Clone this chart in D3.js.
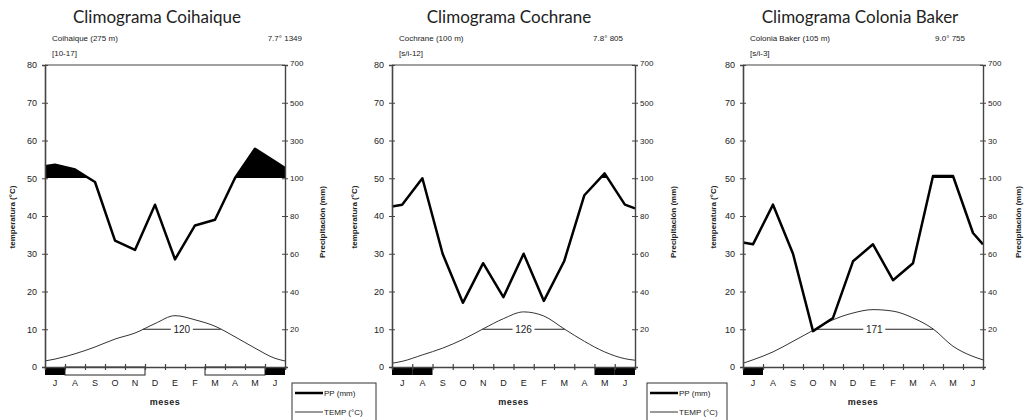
<!DOCTYPE html>
<html>
<head>
<meta charset="utf-8">
<script src="https://cdn.jsdelivr.net/npm/d3@7"></script>
<style>
  body { margin: 0; background: #fff; }
  svg { display: block; }
  text { font-family: "Liberation Sans", Arial, sans-serif; fill: #222; }
</style>
</head>
<body>
<svg width="1024" height="420"></svg>
<script>
// months from July to June
const months = ["J", "A", "S", "O", "N", "D", "E", "F", "M", "A", "M", "J"];

// precipitation (mm) per month
const coihaiquePP = [172, 146, 98, 67, 62, 86, 57, 75, 78, 101, 256, 188];
const cochranePP = [86, 100, 60, 34, 55, 37, 60, 35, 56, 91, 126, 86];
const bakerPP = [65, 86, 60, 19, 26, 56, 65, 46, 55, 112, 112, 71];
// value where the line meets the left / right axis
const coihaiquePPEdge = [164, 154];
const cochranePPEdge = [85, 84];
const bakerPPEdge = [66, 65];

// temperature (°C) per month
const coihaiqueTemp = [2.1, 3.5, 5.3, 7.4, 9.0, 11.5, 13.6, 12.5, 10.8, 8.0, 5.0, 2.3];
const cochraneTemp = [1.5, 3.2, 5.0, 7.3, 10.1, 12.8, 14.6, 13.5, 10.1, 6.8, 4.0, 2.2];
const bakerTemp = [1.9, 4.0, 6.8, 9.7, 12.5, 14.3, 15.2, 14.8, 13.0, 10.1, 5.5, 2.8];
const coihaiqueTempEdge = [1.6, 1.6];
const cochraneTempEdge = [1.0, 1.8];
const bakerTempEdge = [1.0, 1.9];

// frost: 2 = black bar, 1 = open box, 0 = none
const coihaiqueFrost = [2, 1, 1, 1, 1, 0, 0, 0, 1, 1, 1, 2];
const cochraneFrost = [2, 2, 0, 0, 0, 0, 0, 0, 0, 0, 2, 2];
const bakerFrost = [2, 0, 0, 0, 0, 0, 0, 0, 0, 0, 0, 0];

const titles = ["Climograma Coihaique", "Climograma Cochrane", "Climograma Colonia Baker"];
const stationNames = ["Coihaique (275 m)", "Cochrane (100 m)", "Colonia Baker (105 m)"];
const stationCodes = ["[10-17]", "[s/i-12]", "[s/i-3]"];
const annualText = ["7.7° 1349", "7.8° 805", "9.0° 755"];
const frostFreeDays = ["120", "126", "171"];

const tempTicks = [0, 10, 20, 30, 40, 50, 60, 70, 80];
const ppTicks = [20, 40, 60, 80, 100, 300, 500, 700];
const ppTickLabels = [
  ["20", "40", "60", "80", "100", "300", "500", "700"],
  ["20", "40", "60", "80", "100", "300", "500", "700"],
  ["20", "40", "60", "80", "100", "30", "500", "700"]
];
const legendLabels = ["PP (mm)", "TEMP (°C)"];

const stations = [
  { pp: coihaiquePP, ppEdge: coihaiquePPEdge, temp: coihaiqueTemp, tempEdge: coihaiqueTempEdge, frost: coihaiqueFrost },
  { pp: cochranePP, ppEdge: cochranePPEdge, temp: cochraneTemp, tempEdge: cochraneTempEdge, frost: cochraneFrost },
  { pp: bakerPP, ppEdge: bakerPPEdge, temp: bakerTemp, tempEdge: bakerTempEdge, frost: bakerFrost }
];

// layout per panel
const panels = [
  { x0: 45, x1: 285, titleX: 157, annualX: 302, leftTitleX: 12, rightTitleX: 322, legendX: 292, legendW: 84 },
  { x0: 392, x1: 635, titleX: 509, annualX: 623, leftTitleX: 354, rightTitleX: 673, legendX: 647, legendW: 80 },
  { x0: 743, x1: 983, titleX: 860, annualX: 965, leftTitleX: 713, rightTitleX: 1018, legendX: null }
];

const yTop = 65, yBottom = 367;
const svg = d3.select("svg");

const yScale = d3.scaleLinear().domain([0, 80]).range([yBottom, yTop]);
// Walter-Lieth: 2 mm per °C up to 100 mm, compressed above
const ppScale = d3.scaleLinear().domain([0, 100, 700]).range([yScale(0), yScale(50), yScale(80)]);

stations.forEach((st, k) => {
  const p = panels[k];
  const g = svg.append("g");
  const xLin = d3.scaleLinear().domain([0, 12]).range([p.x0, p.x1]);
  const xc = i => xLin(i + 0.5);

  // titles
  g.append("text").attr("x", p.titleX).attr("y", 23).attr("text-anchor", "middle")
    .style("font-family", "Lato, 'Noto Sans', sans-serif").style("font-size", "17px")
    .text(titles[k]);
  g.append("text").attr("x", p.x0 + 7).attr("y", 41).style("font-size", "8px").text(stationNames[k]);
  g.append("text").attr("x", p.x0 + 7).attr("y", 56).style("font-size", "8px").text(stationCodes[k]);
  g.append("text").attr("x", p.annualX).attr("y", 41).attr("text-anchor", "end")
    .style("font-size", "8px").text(annualText[k]);

  // clip for humid fill (above 100 mm)
  const clipId = "clip" + k;
  svg.append("clipPath").attr("id", clipId).append("rect")
    .attr("x", p.x0).attr("y", yTop).attr("width", p.x1 - p.x0)
    .attr("height", Math.floor(yScale(50)) - yTop);

  const ppPts = [[p.x0, ppScale(st.ppEdge[0])]]
    .concat(st.pp.map((v, i) => [xc(i), ppScale(v)]), [[p.x1, ppScale(st.ppEdge[1])]]);
  const tPts = [[p.x0, yScale(st.tempEdge[0])]]
    .concat(st.temp.map((v, i) => [xc(i), yScale(v)]), [[p.x1, yScale(st.tempEdge[1])]]);

  g.append("path")
    .attr("clip-path", "url(#" + clipId + ")")
    .attr("d", d3.area().x(d => d[0]).y0(yScale(50)).y1(d => d[1])(ppPts))
    .attr("fill", "#000");

  // frost-free line at 10 °C
  const cross = [];
  for (let i = 0; i < 11; i++) {
    const a = st.temp[i], b = st.temp[i + 1];
    if ((a - 10) * (b - 10) < 0) cross.push(xc(i) + (10 - a) / (b - a) * (xc(i + 1) - xc(i)));
  }
  if (cross.length === 2) {
    const mid = (cross[0] + cross[1]) / 2;
    g.append("line").attr("x1", cross[0]).attr("x2", mid - 11)
      .attr("y1", yScale(10)).attr("y2", yScale(10)).attr("stroke", "#222").attr("stroke-width", 1);
    g.append("line").attr("x1", mid + 11).attr("x2", cross[1])
      .attr("y1", yScale(10)).attr("y2", yScale(10)).attr("stroke", "#222").attr("stroke-width", 1);
    g.append("text").attr("x", mid).attr("y", yScale(10) + 3.5).attr("text-anchor", "middle")
      .style("font-size", "10px").text(frostFreeDays[k]);
  }

  // temperature line
  g.append("path")
    .attr("d", d3.line().curve(d3.curveMonotoneX)(tPts))
    .attr("fill", "none").attr("stroke", "#333").attr("stroke-width", 1);

  // precipitation line
  g.append("path")
    .attr("d", d3.line()(ppPts))
    .attr("fill", "none").attr("stroke", "#000").attr("stroke-width", 2.5)
    .attr("stroke-linejoin", "round");

  // frame
  g.append("line").attr("x1", p.x0).attr("x2", p.x1).attr("y1", yTop).attr("y2", yTop)
    .attr("stroke", "#444").attr("stroke-width", 1.2);

  // left axis
  const la = g.append("g").attr("transform", "translate(" + p.x0 + ",0)")
    .call(d3.axisLeft(yScale).tickValues(tempTicks).tickSize(3).tickFormat(d3.format("d")));
  la.select(".domain").attr("stroke", "#444").attr("stroke-width", 1.6);
  la.selectAll(".tick line").attr("x1", 3).attr("stroke", "#444");
  la.selectAll(".tick text").attr("x", -8).style("font-size", "9px")
    .style("font-family", "Liberation Sans, Arial, sans-serif").attr("fill", "#333");

  // right axis
  const ra = g.append("g").attr("transform", "translate(" + p.x1 + ",0)")
    .call(d3.axisRight(ppScale).tickValues(ppTicks).tickSize(3).tickFormat((d, i) => ppTickLabels[k][i]));
  ra.select(".domain").attr("stroke", "#444").attr("stroke-width", 1.4);
  ra.selectAll(".tick line").attr("x1", -3).attr("stroke", "#444");
  ra.selectAll(".tick text").attr("x", 5).style("font-size", "8px")
    .style("font-family", "Liberation Sans, Arial, sans-serif").attr("fill", "#333");
  ra.selectAll(".tick").filter(d => d === 700).select("text").attr("dy", "0.1em");

  // frost bar
  st.frost.forEach((f, i) => {
    if (f !== 2) return;
    g.append("rect").attr("x", xLin(i)).attr("y", yBottom)
      .attr("width", xLin(i + 1) - xLin(i)).attr("height", 8).attr("fill", "#000");
  });
  // outline runs of probable frost
  let runStart = null;
  st.frost.concat([0]).forEach((f, i) => {
    if (f === 1 && runStart === null) runStart = i;
    if (f !== 1 && runStart !== null) {
      g.append("rect").attr("x", xLin(runStart)).attr("y", yBottom)
        .attr("width", xLin(i) - xLin(runStart)).attr("height", 8)
        .attr("fill", "none").attr("stroke", "#222").attr("stroke-width", 1);
      runStart = null;
    }
  });

  // bottom axis: boundary ticks and month labels
  const ba = g.append("g").attr("transform", "translate(0," + yBottom + ")")
    .call(d3.axisBottom(xLin).tickValues(d3.range(1, 12)).tickSize(3).tickFormat(""));
  ba.select(".domain").attr("stroke", "#444").attr("stroke-width", 1.6);
  ba.selectAll(".tick line").attr("y1", -3).attr("stroke", "#444").attr("stroke-width", 1.2);

  const xBand = d3.scaleBand().domain(d3.range(12)).range([p.x0, p.x1]);
  const ml = g.append("g").attr("transform", "translate(0," + (yBottom + 10) + ")")
    .call(d3.axisBottom(xBand).tickSize(0).tickFormat(i => months[i]));
  ml.select(".domain").remove();
  ml.selectAll(".tick text").style("font-size", "9px").attr("dy", "0.7em").attr("fill", "#333");

  g.append("text").attr("x", (p.x0 + p.x1) / 2).attr("y", 405).attr("text-anchor", "middle")
    .style("font-size", "9px").style("font-weight", "bold").style("letter-spacing", "0.5px").text("meses");

  // axis titles
  g.append("text").attr("transform", "translate(" + (p.leftTitleX + 3) + ",217) rotate(-90)")
    .attr("text-anchor", "middle").style("font-size", "8px").style("font-weight", "bold")
    .text("temperatura (°C)");
  g.append("text").attr("transform", "translate(" + (p.rightTitleX + 3) + ",222) rotate(-90)")
    .attr("text-anchor", "middle").style("font-size", "8px").style("font-weight", "bold")
    .text("Precipitación (mm)");

  // legend
  if (p.legendX !== null) {
    const lg = g.append("g").attr("transform", "translate(" + p.legendX + ",383)");
    lg.append("rect").attr("x", 0).attr("y", 0).attr("width", p.legendW).attr("height", 40)
      .attr("fill", "#fff").attr("stroke", "#333").attr("stroke-width", 1);
    lg.append("line").attr("x1", 3).attr("x2", 31).attr("y1", 10).attr("y2", 10)
      .attr("stroke", "#000").attr("stroke-width", 2.5);
    lg.append("line").attr("x1", 3).attr("x2", 31).attr("y1", 29).attr("y2", 29)
      .attr("stroke", "#333").attr("stroke-width", 1);
    lg.append("text").attr("x", 32).attr("y", 13).style("font-size", "8px").text(legendLabels[0]);
    lg.append("text").attr("x", 32).attr("y", 32).style("font-size", "8px").text(legendLabels[1]);
  }
});
</script>
</body>
</html>
